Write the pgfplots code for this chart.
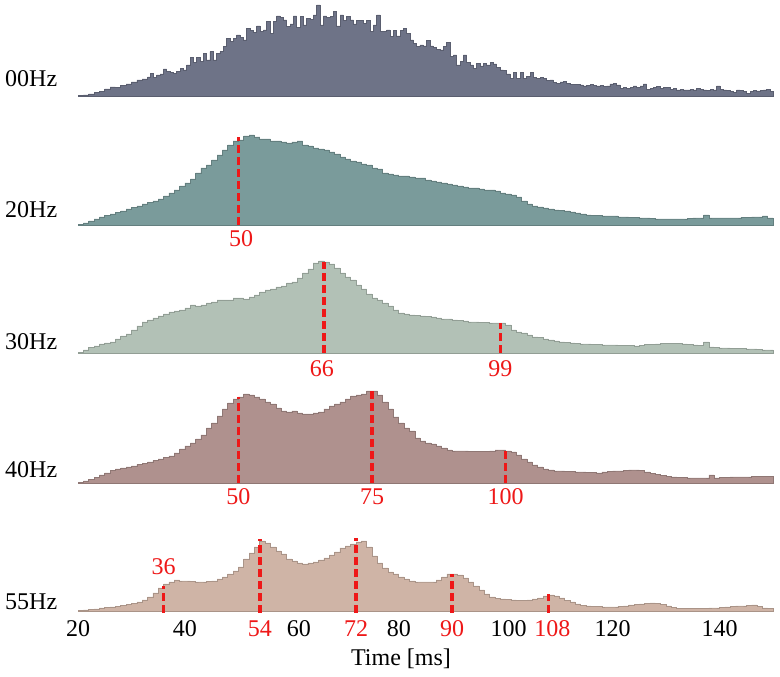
\documentclass[border=0pt]{standalone}
\usepackage{pgfplots}
\pgfplotsset{compat=1.18}
\usepackage{pgfplotstable}
\usepackage{fontspec}
\setmainfont{Liberation Serif}
\definecolor{cA}{RGB}{110,115,135}
\definecolor{cB}{RGB}{122,155,155}
\definecolor{cC}{RGB}{178,193,182}
\definecolor{cD}{RGB}{175,145,142}
\definecolor{cE}{RGB}{207,180,166}
\definecolor{myred}{RGB}{238,24,24}

\pgfplotstableread{
x y
20 0.5
21 1
22 2
23 3.5
24 4.5
25 7
26 9
27 8.5
28 10.5
29 12
30 14
31 16
32 17
33 19
33.47 22.7
34.09 18.7
34.71 21
35.34 22
35.96 27
36.58 24.3
37.21 23.3
37.83 22.7
38.46 24.3
39.08 27.7
39.70 26
40.33 31
40.95 38.7
41.57 33.3
42.20 38.7
42.82 34.3
43.44 42.7
44.07 36
44.69 44.3
45.32 36
45.94 42.7
46.56 44.3
47.19 49.3
47.81 57.7
48.43 54.3
49.06 57.7
49.68 61
50.30 58.7
50.93 56
51.55 67.7
52.17 65.3
52.80 63.3
53.42 70
54.04 64.3
54.67 66
55.29 74.3
55.91 62.7
56.54 74.3
57.16 80
57.79 78.7
58.41 76
59.03 69.3
59.66 72
60.28 80
60.90 68.7
61.53 79.3
62.15 71
62.77 77.7
63.40 76.7
64.02 81
64.64 91
65.27 71
65.89 80
66.51 78.7
67.14 79.3
67.76 84.3
68.38 70
69.01 81
69.63 75.3
70.26 79.3
70.88 76
71.50 72
72.13 75.3
72.75 75.3
73.37 72.7
74.00 75.3
74.62 64.3
75.24 71
75.87 81
76.49 64.3
77.11 64.3
77.74 66
78.36 59.3
78.98 65.3
79.61 60
80.23 65.3
80.86 67.7
81.48 62.7
82.10 56
82.73 52.7
83.35 49.3
83.97 51
84.60 50
85.22 55.3
85.84 50
86.47 48.7
87.09 46.7
87.71 46
88.34 49.3
88.96 53.3
89.59 39.3
90.21 41
90.83 31
91.46 34.3
92.08 41
92.70 33.3
93.33 31
93.95 27.7
94.57 32.7
95.20 30
95.82 32.7
96.44 31
97.07 33.3
97.69 32
98.31 28.7
98.94 26
99.56 25.3
100.19 22
100.81 17.7
101.43 23.3
102.06 17.7
102.68 23.3
103.30 17.7
103.93 19.3
104.55 23.3
105.17 18.7
105.80 17.7
106.42 18.7
107.04 17.7
107.67 15.3
108.29 16
108.91 13.3
109.54 12.7
110.16 14
110.79 14.3
111.41 12.7
112.03 11.7
112.66 11.7
113.28 11.7
113.90 11
114.53 10
115.15 10.7
115.77 11.7
116.40 10.7
117.02 10
117.64 10.3
118.27 9.3
118.89 10
119.51 12
120.14 12.7
120.76 11
121.39 7.7
122.01 8.7
122.63 7.7
123.26 8.7
123.88 10
124.50 8.7
125.13 10
125.75 12
126.37 6.7
127.00 7.7
127.62 8.7
128.24 9.3
128.87 7.7
129.49 8.7
130.11 8.7
130.74 6.7
131.36 7.7
131.99 6
132.61 6.7
133.23 6
133.86 6
134.48 6.7
135.10 6
135.73 7.3
136.35 6.7
136.97 6
137.60 5.3
138.22 6.7
138.84 6
139.47 10
140.09 6.7
140.71 6
141.34 5.3
141.96 4.3
142.59 3.3
143.21 6
143.83 5.3
144.46 4.3
145.08 2.7
145.70 4.3
146.33 5.3
146.95 5
147.57 5.3
148.20 6
148.82 6.7
149.44 4.3
150 4.3
}\tA

\pgfplotstableread{
x y
20 0.7
21 2
22 4
23 6
24 8
25 9.5
26 11
27 12.5
28 14
29 16
30 17.5
31 19
32 21
33 22.5
34 24
35 26
36 29
37 32
38 35
39 39
40 42
41 46
42 52
43 57
44 60
45 65
46 70
47 75
48 80
49 84
50 85
51 89
52 90
53 88
54 86
55 86
56 84
57 84
58 83
59 82
60 83
61 84
62 80
63 79
64 77
65 76
66 75
67 73
68 71
69 68
70 66
71 64
72 63
73 61
74 60
75 57
76 56
77 52
78 51
79 50
80 49
81 49
82 48
83 47
84 47
85 45
86 44
87 43
88 42
89 41
90 40
91 39
92 38
93 37
94 37
95 36
96 35
97 35
98 34
99 32
100 31
101 30
102 28
103 24
104 21
105 19
106 18
107 17
108 16
109 15
110 14.5
111 14
112 13
113 12
114 11
115 10
116 9.5
117 9.5
118 9
119 9
120 9
121 8
122 8
123 7.5
124 7.5
125 7
126 7
127 6.5
128 6
129 6
130 6
131 6
132 6
133 6
134 6.5
135 7
136 7
137 10
138 7
139 7
140 7
141 7
142 7
143 7
144 7.5
145 7.5
146 8
147 8
148 9
149 7
150 7
}\tB

\pgfplotstableread{
x y
20 0.7
21 3
22 5.5
23 7
24 9
25 10
26 11
27 14
28 17
29 19
30 23
31 27
32 31
33 33
34 35
35 37
36 39
37 41
38 42
39 43
40 45
41 48
42 47
43 48
44 50
45 51
46 53
47 53
48 53
49 55
50 55
51 54
52 56
53 58
54 61
55 63
56 64
57 66
58 67
59 70
60 71
61 75
62 80
63 84
64 90
65 92
66 91
67 89
68 85
69 80
70 76
71 73
72 68
73 64
74 59
75 55
76 53
77 50
78 47
79 43
80 40
81 39
82 38
83 37.5
84 37
85 36.5
86 36
87 35
88 34
89 34
90 33
91 32.5
92 32
93 31
94 31
95 30.5
96 30.5
97 30
98 30
99 30
100 28
101 23
102 21
103 20
104 18
105 16
106 15.5
107 14
108 13
109 12
110 11
111 10.5
112 10
113 9.5
114 9
115 9
116 8.5
117 8.5
118 8
119 8
120 8
121 7.5
122 7.5
123 7.5
124 7
125 7.5
126 8.5
127 8.5
128 9
129 9.5
130 9.5
131 9.5
132 9.5
133 9
134 8.5
135 8
136 7.5
137 11
138 6
139 5.5
140 5
141 5
142 4.5
143 4.5
144 4.5
145 4
146 4
147 3.5
148 3
149 3
150 3
}\tC

\pgfplotstableread{
x y
20 0.7
21 2
22 3.5
23 5.5
24 8
25 10
26 12.5
27 14
28 15
29 16
30 17
31 18.5
32 19.5
33 21
34 22.5
35 24
36 25.5
37 27
38 30
39 34
40 37
41 40
42 44
43 48
44 55
45 60
46 67
47 74
48 80
49 84
50 86
51 89
52 88
53 86
54 84
55 81
56 79
57 75
58 72
59 71
60 72
61 70
62 69
63 69
64 70
65 71
66 74
67 77
68 79
69 81
70 84
71 87
72 88
73 89
74 92
75 92
76 88
77 81
78 74
79 66
80 60
81 55
82 52
83 45
84 42
85 40
86 39
87 37
88 35
89 33
90 32
91 32
92 32
93 31.5
94 31.5
95 31.5
96 31.5
97 32
98 33
99 33
100 32
101 31
102 28
103 24
104 21
105 18
106 16
107 14
108 13
109 12
110 12
111 11.5
112 11.5
113 11
114 11
115 10.5
116 10.5
117 10
118 11
119 11.5
120 12
121 12
122 12.5
123 13
124 13
125 12.5
126 11
127 9.5
128 8.5
129 7.5
130 6.5
131 6
132 5.5
133 5.5
134 5
135 5
136 5
137 5
138 8
139 5
140 5.5
141 5.5
142 6
143 6
144 6
145 6
146 6.5
147 6.5
148 6.5
149 6.5
150 6.5
}\tD

\pgfplotstableread{
x y
20 0.7
21 1
22 1.3
23 2
24 3
25 3.5
26 4
27 4.5
28 5.5
29 6.5
30 7.5
31 9
32 11
33 14
34 18
35 23
36 27
37 29
38 31
39 30
40 30
41 29.5
42 29
43 29
44 29.5
45 30
46 32
47 34
48 37
49 40
50 44
51 52
52 58
53 64
54 70
55 68
56 64
57 60
58 57
59 52
60 50
61 48
62 47
63 48
64 49
65 51
66 53
67 56
68 59
69 63
70 65
71 67
72 69
73 70
74 64
75 55
76 48
77 43
78 39
79 37
80 34
81 32
82 30
83 29
84 29
85 29
86 29
87 31
88 34
89 37
90 37
91 36
92 33
93 29
94 25
95 21
96 17
97 14
98 12.5
99 12
100 11.5
101 11
102 10.5
103 10.5
104 11
105 12
106 13
107 15
108 16
109 15
110 13
111 10.5
112 9
113 7
114 5.5
115 5
116 4.5
117 4.5
118 4
119 4
120 4
121 4.5
122 5
123 6
124 6.5
125 7
126 7.5
127 8
128 7.5
129 6.5
130 5
131 3.5
132 2.5
133 2.5
134 2.5
135 2.5
136 2.5
137 2.5
138 3
139 3
140 3.5
141 4
142 4.5
143 5
144 5
145 5.5
146 6
147 4.5
148 3
149 2.5
150 2.5
}\tE

\pgfplotsset{
  ridge/.style={scale only axis, width=695pt, height=95pt,
    xmin=20, xmax=150, ymin=0, ymax=95, clip=false, anchor=south west},
  hist/.style={const plot mark left, fill=#1, draw=#1!82!black, line width=0.6pt},
  redline/.style={myred, line width=3.5pt, dash pattern=on 8pt off 4pt},
}
\tikzset{redlab/.style={text=myred, anchor=base, inner sep=0pt}}

\begin{document}
\fontsize{24}{28}\selectfont
\begin{tikzpicture}
\path[use as bounding box] (0,0) rectangle (780pt,677pt);

% 00Hz
\begin{axis}[ridge, hide axis, at={(78pt,581pt)}]
\addplot[hist=cA] table[x=x,y=y]{\tA} \closedcycle;
\end{axis}

% 20Hz
\begin{axis}[ridge, hide axis, at={(78pt,452pt)}]
\addplot[hist=cB] table[x=x,y=y]{\tB} \closedcycle;
\addplot[redline] coordinates {(50,0) (50,88)};
\node[redlab] at (axis cs:50.5,-22) {50};
\end{axis}

% 30Hz
\begin{axis}[ridge, hide axis, at={(78pt,324pt)}]
\addplot[hist=cC] table[x=x,y=y]{\tC} \closedcycle;
\addplot[redline] coordinates {(66,0) (66,91)};
\addplot[redline] coordinates {(99,0) (99,30)};
\node[redlab] at (axis cs:65.6,-24) {66};
\node[redlab] at (axis cs:99,-24) {99};
\end{axis}

% 40Hz
\begin{axis}[ridge, hide axis, at={(78pt,194pt)}]
\addplot[hist=cD] table[x=x,y=y]{\tD} \closedcycle;
\addplot[redline] coordinates {(50,0) (50,86)};
\addplot[redline] coordinates {(75,0) (75,94)};
\addplot[redline] coordinates {(100,0) (100,33)};
\node[redlab] at (axis cs:50,-22) {50};
\node[redlab] at (axis cs:75,-22) {75};
\node[redlab] at (axis cs:100,-22) {100};
\end{axis}

% 55Hz
\begin{axis}[ridge, at={(78pt,66pt)}, hide y axis,
  axis x line*=bottom, x axis line style={draw=none},
  major tick length=0pt,
  xtick={20,40,54,60,72,80,90,100,108,120,140},
  xticklabels={20,40,\textcolor{myred}{54},\hspace*{14pt}60,\textcolor{myred}{72},80,\textcolor{myred}{90},\hspace*{6pt}100,\textcolor{myred}{\hspace*{8pt}108},120,140},
  xticklabel style={anchor=base, yshift=-26pt, inner sep=0pt}]
\addplot[hist=cE] table[x=x,y=y]{\tE} \closedcycle;
\addplot[redline] coordinates {(36,-2) (36,25)};
\addplot[redline] coordinates {(54,-2) (54,72)};
\addplot[redline] coordinates {(72,-2) (72,73)};
\addplot[redline] coordinates {(90,-2) (90,37)};
\addplot[redline] coordinates {(108,-2) (108,17)};
\node[redlab] at (axis cs:36,36) {36};
\end{axis}

\node[anchor=base west, inner sep=0pt] at (5pt,590pt) {00Hz};
\node[anchor=base west, inner sep=0pt] at (5pt,459pt) {20Hz};
\node[anchor=base west, inner sep=0pt] at (5pt,327pt) {30Hz};
\node[anchor=base west, inner sep=0pt] at (5pt,199pt) {40Hz};
\node[anchor=base west, inner sep=0pt] at (5pt,67pt) {55Hz};
\node[anchor=base, inner sep=0pt] at (401pt,11pt) {Time [ms]};
\end{tikzpicture}
\end{document}
